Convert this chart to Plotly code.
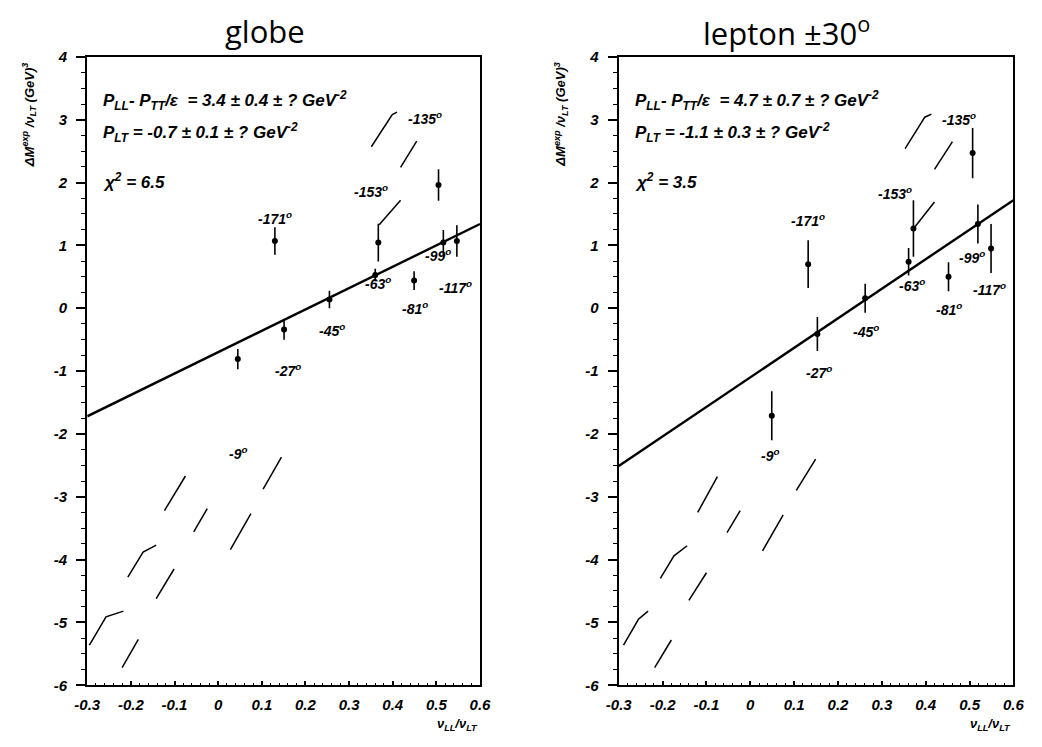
import plotly.graph_objects as go

# ---------------- data ----------------
angles = ["-9", "-27", "-45", "-63", "-81", "-99", "-117", "-135", "-153", "-171"]

# globe
globe_x = [0.045, 0.151, 0.255, 0.360, 0.449, 0.516, 0.547, 0.505, 0.367, 0.130]
globe_y = [-0.81, -0.34, 0.14, 0.53, 0.44, 1.045, 1.07, 1.96, 1.045, 1.07]
globe_err = [0.16, 0.16, 0.14, 0.10, 0.15, 0.20, 0.25, 0.25, 0.30, 0.22]
globe_slope, globe_icpt = 3.4, -0.7
globe_lab_x = [0.045, 0.160, 0.261, 0.366, 0.451, 0.504, 0.545, 0.474, 0.351, 0.130]
globe_lab_y = [-2.30, -0.98, -0.35, 0.40, 0.01, 0.84, 0.33, 3.02, 1.87, 1.43]

# lepton +-30 deg
lep_x = [0.049, 0.153, 0.262, 0.361, 0.452, 0.519, 0.549, 0.507, 0.372, 0.132]
lep_y = [-1.71, -0.41, 0.16, 0.74, 0.50, 1.34, 0.95, 2.47, 1.27, 0.70]
lep_err = [0.39, 0.27, 0.23, 0.22, 0.23, 0.31, 0.39, 0.40, 0.45, 0.38]
lep_slope, lep_icpt = 4.7, -1.1
lep_lab_x = [0.045, 0.157, 0.264, 0.368, 0.454, 0.506, 0.546, 0.476, 0.331, 0.131]
lep_lab_y = [-2.33, -1.01, -0.37, 0.37, -0.01, 0.81, 0.31, 3.01, 1.84, 1.40]

# thin guide strokes (polylines, x and y lists)
globe_strokes = [
    ([-0.123, -0.075], [-3.22, -2.67]),
    ([-0.056, -0.025], [-3.56, -3.19]),
    ([0.028, 0.075], [-3.84, -3.27]),
    ([0.103, 0.145], [-2.88, -2.37]),
    ([-0.207, -0.172, -0.142], [-4.28, -3.88, -3.77]),
    ([-0.142, -0.101], [-4.62, -4.15]),
    ([-0.295, -0.257, -0.217], [-5.36, -4.91, -4.82]),
    ([-0.220, -0.183], [-5.72, -5.27]),
    ([0.351, 0.399, 0.410], [2.57, 3.08, 3.12]),
    ([0.418, 0.455], [2.24, 2.66]),
    ([0.418, 0.369], [1.72, 1.33]),
]
lep_strokes = [
    ([-0.120, -0.075], [-3.25, -2.68]),
    ([-0.053, -0.023], [-3.57, -3.22]),
    ([0.028, 0.075], [-3.86, -3.29]),
    ([0.105, 0.149], [-2.90, -2.40]),
    ([-0.205, -0.174, -0.144], [-4.30, -3.94, -3.78]),
    ([-0.140, -0.100], [-4.65, -4.21]),
    ([-0.289, -0.255, -0.233], [-5.36, -4.95, -4.82]),
    ([-0.218, -0.180], [-5.72, -5.28]),
    ([0.353, 0.398, 0.413], [2.54, 3.04, 3.09]),
    ([0.420, 0.461], [2.21, 2.65]),
    ([0.420, 0.376], [1.69, 1.30]),
]

fit_text = {
    "globe": ["3.4 ± 0.4 ± ?", "-0.7 ± 0.1 ± ?", "6.5"],
    "lepton": ["4.7 ± 0.7 ± ?", "-1.1 ± 0.3 ± ?", "3.5"],
}

x_ticks = [-0.3, -0.2, -0.1, 0.0, 0.1, 0.2, 0.3, 0.4, 0.5, 0.6]
x_ticktext = ["-0.3", "-0.2", "-0.1", "0", "0.1", "0.2", "0.3", "0.4", "0.5", "0.6"]
y_ticks = [4, 3, 2, 1, 0, -1, -2, -3, -4, -5, -6]
y_ticktext = ["4", "3", "2", "1", "0", "-1", "-2", "-3", "-4", "-5", "-6"]
x_range = [-0.3, 0.6]
y_range = [-6, 4]

# ---------------- figure ----------------
W, H = 1042, 747
BI = dict(family="Liberation Sans, Arial, sans-serif", color="black")


def bi(s):
    return f"<b><i>{s}</i></b>"


fig = go.Figure()


def add_panel(fig, xs, ys, errs, slope, icpt, strokes, lab_x, lab_y, xa, ya):
    for sx, sy in strokes:
        fig.add_trace(go.Scatter(x=sx, y=sy, mode="lines", xaxis=xa, yaxis=ya,
                                 line=dict(color="black", width=1.5),
                                 hoverinfo="skip", showlegend=False))
    fig.add_trace(go.Scatter(x=x_range, y=[slope * x_range[0] + icpt, slope * x_range[1] + icpt],
                             mode="lines", xaxis=xa, yaxis=ya,
                             line=dict(color="black", width=2.4), showlegend=False))
    fig.add_trace(go.Scatter(x=xs, y=ys, mode="markers", xaxis=xa, yaxis=ya,
                             marker=dict(color="black", size=6),
                             error_y=dict(type="data", array=errs, color="black",
                                          thickness=1.6, width=0),
                             showlegend=False))
    for a, lx, ly in zip(angles, lab_x, lab_y):
        fig.add_annotation(x=lx, y=ly, xref=xa, yref=ya, showarrow=False,
                           text=bi(f"{a}<sup>o</sup>"),
                           font=dict(size=14, **BI))


add_panel(fig, globe_x, globe_y, globe_err, globe_slope, globe_icpt,
          globe_strokes, globe_lab_x, globe_lab_y, "x", "y")
add_panel(fig, lep_x, lep_y, lep_err, lep_slope, lep_icpt,
          lep_strokes, lep_lab_x, lep_lab_y, "x2", "y2")

# plot-area placement in pixels
left_px = (76, 478)
right_px = (620, 1024)
y_px = (49, 692)
ydom = [1 - y_px[1] / H, 1 - y_px[0] / H]


def xaxis_cfg(px):
    return dict(domain=[px[0] / W, px[1] / W], range=x_range, showgrid=False, zeroline=False,
                showline=True, linecolor="black", linewidth=2.2, mirror=True,
                tickvals=x_ticks, ticktext=[bi(t) for t in x_ticktext],
                ticks="inside", ticklen=4, tickcolor="black", tickwidth=1.5,
                minor=dict(dtick=0.02, ticks="inside", ticklen=2, tickcolor="black", tickwidth=1),
                tickfont=dict(size=15, **BI), ticklabelstandoff=5, fixedrange=True)


def yaxis_cfg():
    return dict(domain=ydom, range=y_range, showgrid=False, zeroline=False,
                showline=True, linecolor="black", linewidth=2.2, mirror=True,
                tickvals=y_ticks, ticktext=[bi(t) for t in y_ticktext],
                ticks="outside", ticklen=9, tickcolor="black", tickwidth=1.5,
                minor=dict(dtick=0.25, ticks="outside", ticklen=4, tickcolor="black", tickwidth=1),
                tickfont=dict(size=15, **BI), ticklabelstandoff=6, fixedrange=True)


fig.update_layout(
    width=W, height=H, margin=dict(l=0, r=0, t=0, b=0),
    paper_bgcolor="white", plot_bgcolor="white", showlegend=False,
    xaxis=dict(xaxis_cfg(left_px), anchor="y"), yaxis=dict(yaxis_cfg(), anchor="x"),
    xaxis2=dict(xaxis_cfg(right_px), anchor="y2"), yaxis2=dict(yaxis_cfg(), anchor="x2"),
)

# panel titles
for cx, title in [(258, "globe"), (792, "lepton ±30<sup>o</sup>")]:
    fig.add_annotation(x=cx / W, y=1 - 23 / H, xref="paper", yref="paper", showarrow=False,
                       xanchor="center", yanchor="middle",
                       text=title, font=dict(family="Open Sans, Lato, sans-serif", size=31,
                                             color="black"))

# fit results in each panel
for key, xa, ya in [("globe", "x", "y"), ("lepton", "x2", "y2")]:
    a, b, c = fit_text[key]
    lines = [
        (3.30, bi(f"P<sub>LL</sub>- P<sub>TT</sub>/ε  = {a} GeV<sup>-2</sup>")),
        (2.79, bi(f"P<sub>LT</sub> = {b} GeV<sup>-2</sup>")),
        (2.02, bi(f"χ<sup>2</sup> = {c}")),
    ]
    for yy, txt in lines:
        fig.add_annotation(x=-0.268, y=yy, xref=xa, yref=ya, xanchor="left", yanchor="middle",
                           showarrow=False, text=txt, font=dict(size=17, **BI))

# axis titles
for px in (left_px, right_px):
    fig.add_annotation(x=(px[0] - 60) / W, y=1 - 108 / H, xref="paper", yref="paper",
                       xanchor="center", yanchor="middle", showarrow=False, textangle=-90,
                       text=bi("ΔM<sup>exp</sup> /ν<sub>LT</sub> (GeV)<sup>3</sup>"),
                       font=dict(size=13, **BI))
    fig.add_annotation(x=px[1] / W, y=1 - 732 / H, xref="paper", yref="paper",
                       xanchor="right", yanchor="middle", showarrow=False,
                       text=bi("ν<sub>LL</sub>/ν<sub>LT</sub>"),
                       font=dict(size=13, **BI))

fig.write_html("out.html")
